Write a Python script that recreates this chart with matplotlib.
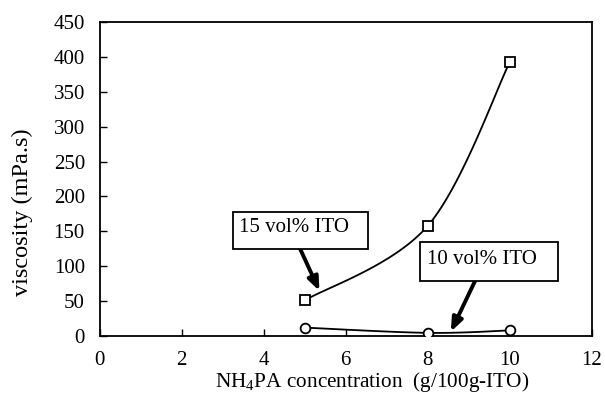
import numpy as np
import matplotlib
matplotlib.use("Agg")
import matplotlib.pyplot as plt
from matplotlib.patches import Rectangle

plt.rcParams['font.family'] = ['Liberation Serif', 'DejaVu Serif']
plt.rcParams['mathtext.fontset'] = 'custom'
plt.rcParams['mathtext.rm'] = 'Liberation Serif'

conc = [5, 8, 10]
visc_15 = [51, 158, 393]
visc_10 = [12, 4.5, 8]
label_15 = "15 vol% ITO"
label_10 = "10 vol% ITO"
xticks = [0, 2, 4, 6, 8, 10, 12]
yticks = [0, 50, 100, 150, 200, 250, 300, 350, 400, 450]


def smooth(xs, ys, n=40):
    P = np.column_stack([xs, ys]).astype(float)
    P_ext = np.vstack([P[0], P, P[-1]])
    out = []
    for i in range(len(P) - 1):
        p0, p1 = P_ext[i + 1], P_ext[i + 2]
        c1 = p0 + (P_ext[i + 2] - P_ext[i]) / 6.0
        c2 = p1 - (P_ext[i + 3] - P_ext[i + 1]) / 6.0
        t = np.linspace(0, 1, n)[:, None]
        seg = ((1 - t) ** 3) * p0 + 3 * ((1 - t) ** 2) * t * c1 + 3 * (1 - t) * t ** 2 * c2 + t ** 3 * p1
        out.append(seg if i == 0 else seg[1:])
    out = np.vstack(out)
    return out[:, 0], out[:, 1]


W, H = 605, 394
fig = plt.figure(figsize=(W / 100, H / 100), dpi=100)
ax = fig.add_axes([99.5 / W, (H - 336) / H, (592 - 99.5) / W, (336 - 22) / H])

sx, sy = smooth(conc, visc_15)
ax.plot(sx, sy, color='black', lw=1.3, zorder=2)
sx, sy = smooth(conc, visc_10)
ax.plot(sx, sy, color='black', lw=1.3, zorder=2)
ax.plot(conc, visc_15, ls='none', marker='s', ms=6.8, mfc='white', mec='black', mew=1.3, zorder=3)
ax.plot(conc, visc_10, ls='none', marker='o', ms=7.0, mfc='white', mec='black', mew=1.3, zorder=3)

ax.set_xlim(0, 12)
ax.set_ylim(0, 450)
ax.set_xticks(xticks)
ax.set_yticks(yticks)
ax.tick_params(direction='in', length=5, width=1, labelsize=15, pad=10.5)
for s in ax.spines.values():
    s.set_linewidth(1.3)

fig.text(372.5 / W, (H - 386.5) / H, r'NH$_4$PA concentration  (g/100g-ITO)',
         fontsize=15.3, ha='center', va='baseline')
fig.text(22.5 / W, (H - 212.5) / H, 'viscosity (mPa.s)', fontsize=17.5,
         rotation=90, ha='center', va='center')

arrow = dict(arrowstyle='-|>,head_length=0.8,head_width=0.32', color='black', lw=2.8,
             shrinkA=0, shrinkB=0)
ax.annotate('', xy=(5.36, 64.5), xytext=(4.89, 124.7), arrowprops=arrow, zorder=4)
ax.annotate('', xy=(8.56, 6.2), xytext=(9.15, 78.8), arrowprops=arrow, zorder=4)

ax.add_patch(Rectangle((3.253, 124.7), 6.542 - 3.253, 177.7 - 124.7, fc='white', ec='black',
                       lw=1.3, zorder=5))
ax.add_patch(Rectangle((7.81, 78.8), 11.17 - 7.81, 134.7 - 78.8, fc='white', ec='black',
                       lw=1.3, zorder=5, clip_on=False))
ax.text(3.40, 155.2, label_15, fontsize=15, ha='left', va='center', zorder=6)
ax.text(7.98, 110.3, label_10, fontsize=15, ha='left', va='center', zorder=6)

fig.savefig('out.png', dpi=100)
